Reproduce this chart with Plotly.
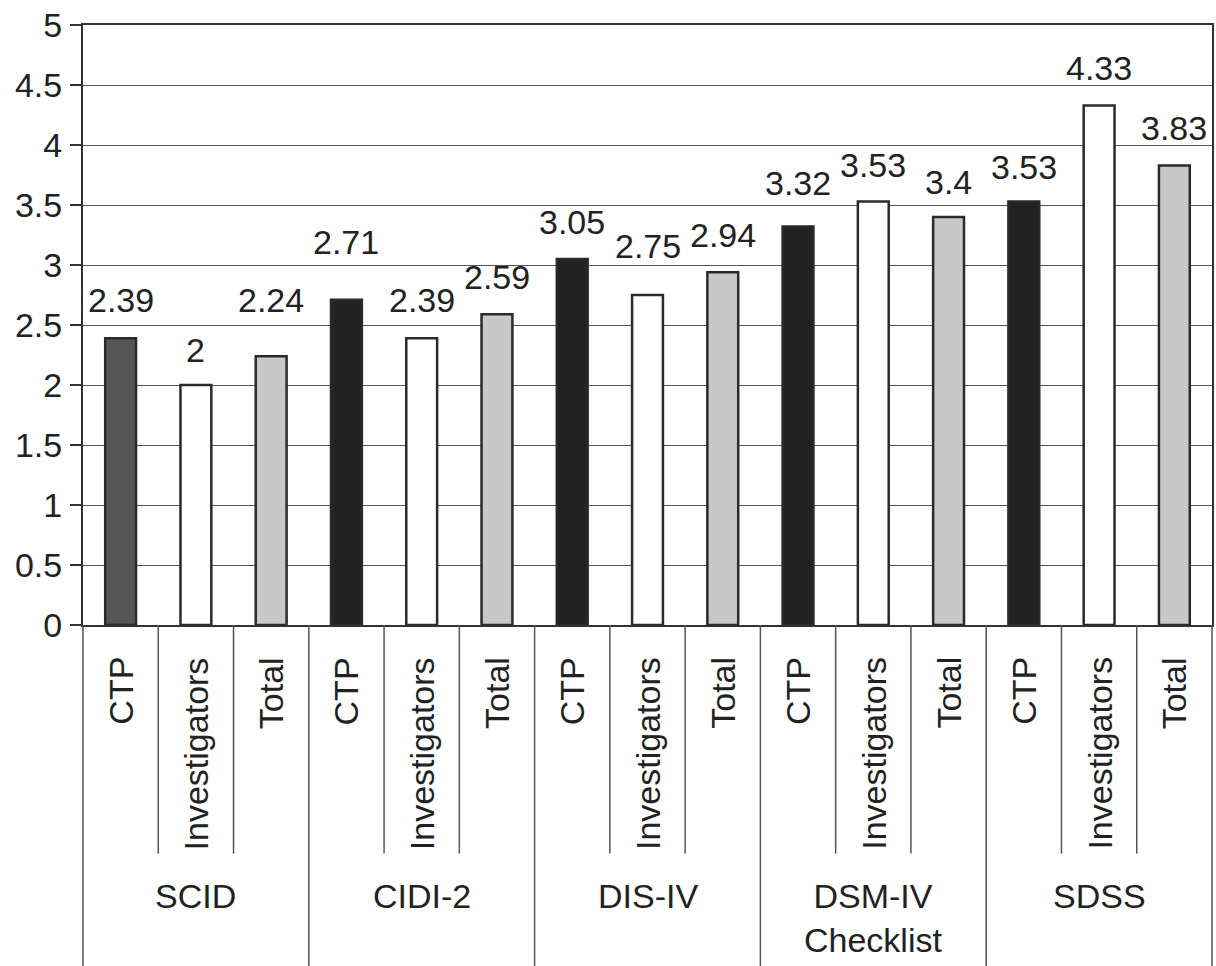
import plotly.graph_objects as go

# ---- data ----
groups = ["SCID", "CIDI-2", "DIS-IV", "DSM-IV<br>Checklist", "SDSS"]
subcats = ["CTP", "Investigators", "Total"]
ctp = [2.39, 2.71, 3.05, 3.32, 3.53]
investigators = [2.0, 2.39, 2.75, 3.53, 4.33]
total = [2.24, 2.59, 2.94, 3.4, 3.83]
y_ticks = [0, 0.5, 1, 1.5, 2, 2.5, 3, 3.5, 4, 4.5, 5]
y_tick_text = ["0", "0.5", "1", "1.5", "2", "2.5", "3", "3.5", "4", "4.5", "5"]

# ---- style ----
FONT = "Liberation Sans, Arial, sans-serif"
TXT = "#222222"
FS = 34
ctp_colors = ["#555555", "#222222", "#222222", "#222222", "#222222"]
inv_color = "#ffffff"
tot_color = "#c8c8c8"
# pixel offset of each value label above its bar (per bar, in order)
label_shift = [38, 35, 56, 58, 38, 37, 37, 49, 37, 44, 36, 35, 34, 37, 37]

values, colors, labels = [], [], []
for g in range(len(groups)):
    values += [ctp[g], investigators[g], total[g]]
    colors += [ctp_colors[g], inv_color, tot_color]
    labels += subcats
xs = list(range(len(values)))

fig = go.Figure()
fig.add_trace(go.Bar(
    x=xs, y=values, width=0.41,
    marker=dict(color=colors, line=dict(color="#2a2a2a", width=2.5)),
    showlegend=False, hoverinfo="y",
))

annotations = []
for i, v in enumerate(values):
    annotations.append(dict(
        x=i, y=v, xref="x", yref="y", text=f"{v:g}", showarrow=False,
        yanchor="middle", xanchor="center", yshift=label_shift[i],
        font=dict(family=FONT, size=FS, color=TXT),
    ))

# geometry below the plot (paper coords; plot height = 600 px)
sub_top = -0.05
sub_bottom = -0.381
grp_label_y = -0.417
bottom = -0.62

for i, lab in enumerate(labels):
    annotations.append(dict(
        x=i, y=sub_top, xref="x", yref="paper", text=lab, showarrow=False,
        textangle=-90, xanchor="center", yanchor="top",
        font=dict(family=FONT, size=FS, color=TXT),
    ))
for g, name in enumerate(groups):
    annotations.append(dict(
        x=3 * g + 1, y=grp_label_y, xref="x", yref="paper", text=name,
        showarrow=False, xanchor="center", yanchor="top",
        font=dict(family=FONT, size=FS, color=TXT),
    ))

shapes = []
n = len(values)
for k in range(1, n):
    y1 = bottom if k % 3 == 0 else sub_bottom
    shapes.append(dict(type="line", xref="x", yref="paper",
                       x0=k - 0.5, x1=k - 0.5, y0=0, y1=y1,
                       line=dict(color="#555555", width=1.5)))
for xp in (0, 1):
    shapes.append(dict(type="line", xref="paper", yref="paper",
                       x0=xp, x1=xp, y0=0, y1=bottom,
                       line=dict(color="#555555", width=1.5)))

fig.update_layout(
    width=1216, height=966,
    margin=dict(l=83, r=2, t=25, b=341),
    paper_bgcolor="white", plot_bgcolor="white",
    font=dict(family=FONT, size=FS, color=TXT),
    annotations=annotations, shapes=shapes,
    xaxis=dict(range=[-0.5, n - 0.5], showticklabels=False, ticks="",
               showgrid=False, zeroline=False,
               showline=True, linecolor="#333333", linewidth=2, mirror=True),
    yaxis=dict(range=[0, 5], tickvals=y_ticks, ticktext=y_tick_text,
               ticks="outside", ticklen=11, tickwidth=1.5, tickcolor="#333333",
               ticklabelstandoff=1,
               showgrid=True, gridcolor="#555555", gridwidth=1,
               zeroline=False, showline=True, linecolor="#333333",
               linewidth=2, mirror=True,
               tickfont=dict(family=FONT, size=FS, color=TXT)),
)

fig.write_html("out.html",
               config={"displayModeBar": False},
               post_script="document.body.style.margin='0';"
                           "document.body.style.overflow='hidden';")
